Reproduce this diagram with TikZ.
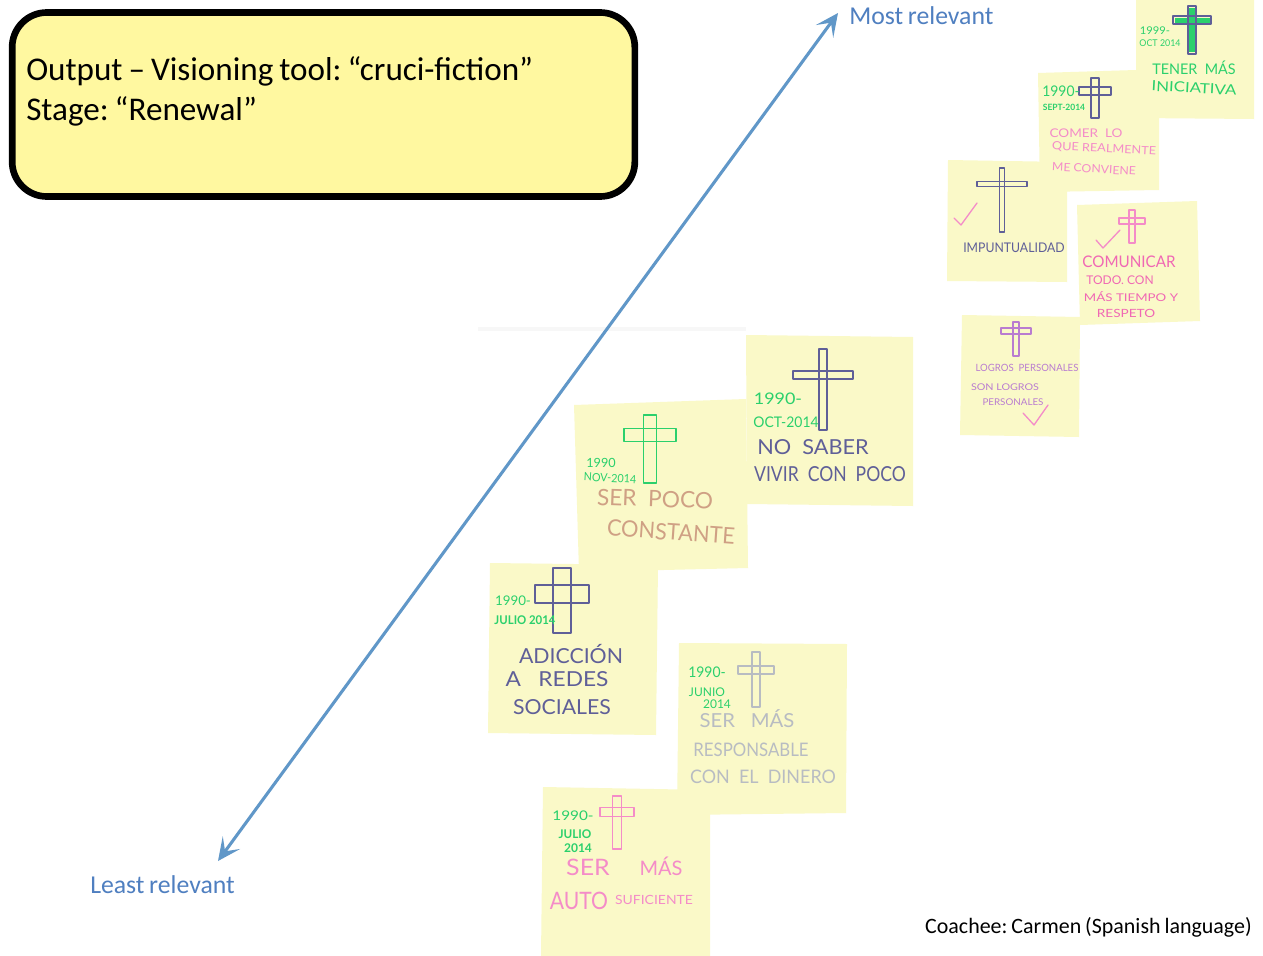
\documentclass[tikz,border=0pt]{standalone}
\usepackage{fontspec}
\setmainfont[WordSpace=0.8]{Carlito}
\newfontfamily\handfont{Lato}
\usetikzlibrary{arrows.meta}
\frenchspacing
\definecolor{note}{HTML}{FAF9C8}
\definecolor{titlefill}{HTML}{FFF8A0}
\definecolor{arrowblue}{HTML}{6097C8}
\definecolor{labelblue}{HTML}{4F7FC0}
\definecolor{hgreen}{HTML}{2AD06C}
\definecolor{hnavy}{HTML}{5F5F98}
\definecolor{hpink}{HTML}{F48CC8}
\definecolor{hmag}{HTML}{F068B4}
\definecolor{hviolet}{HTML}{B97CD0}
\definecolor{hbrown}{HTML}{CFA084}
\definecolor{hgrey}{HTML}{B8BCC2}
\tikzset{
  notepoly/.style={fill=note,draw=none},
  hand/.style={inner sep=0pt,anchor=center,font=\handfont},
  crossline/.style={line width=.9pt,line join=round},
  checkline/.style={line width=1pt,line cap=round,line join=round},
  axis/.style={draw=arrowblue,line width=2.3pt,{Stealth[length=17pt,width=16pt,inset=8pt]}-{Stealth[length=17pt,width=16pt,inset=8pt]}},
  axislabel/.style={text=labelblue,font=\fontsize{19.3}{22}\selectfont,inner sep=0pt}
}
% \handtext{name}{x,y}{angle}{colour}{size}{xscale}{text}
\newcommand{\handtext}[7]{\node[hand,text=#4,rotate=#3,xscale=#6,font=\handfont\fontsize{#5}{#5}\selectfont] (#1) at (#2) {#7};}
% \crossmark{colour}{cx}{top}{bottom}{arm y}{half arm}{half width}: two overlapping bars
\newcommand{\crossmark}[7]{%
  \draw[crossline,draw=#1] ({#2-#7},#3) rectangle ({#2+#7},#4);
  \draw[crossline,draw=#1] ({#2-#6},{#5-#7}) rectangle ({#2+#6},{#5+#7});}
\begin{document}
\begin{tikzpicture}[x=0.75pt,y=-0.75pt]
\useasboundingbox (0,0) rectangle (1263,956);
\fill[white] (0,0) rectangle (1263,956);
% faint shadow line
\fill[black!3] (478,327) rectangle (746,331);
% title box
\node[draw=black,line width=5pt,fill=titlefill,rounded corners=26pt,minimum width=467pt,minimum height=138pt,inner sep=0pt] (titlebox) at (323.5,104.5) {};
\node[anchor=north west,inner sep=0pt,align=left,font=\fontsize{24.85}{30}\selectfont] (titletext) at (26,56) {Output -- Visioning tool: “cruci-fiction”\\Stage: “Renewal”};
% notes
\fill[notepoly] (1136,0) -- (1254,0) -- (1254,119) -- (1136,118) -- cycle;
\fill[notepoly] (1038,73) -- (1136,70) -- (1159,70) -- (1159,190) -- (1040,192) -- cycle;
\fill[notepoly] (948,160) -- (1067,162) -- (1067,282) -- (947,281) -- cycle;
\fill[notepoly] (1077,205) -- (1197,201) -- (1200,321) -- (1080,325) -- cycle;
\fill[notepoly] (962,315) -- (1080,317) -- (1079,437) -- (960,435) -- cycle;
\fill[notepoly] (746,335) -- (913,337) -- (913,506) -- (747,504) -- cycle;
\fill[notepoly] (574,405) -- (746,399) -- (748,568) -- (579,572) -- cycle;
\fill[notepoly] (490,563) -- (658,565) -- (656,735) -- (488,733) -- cycle;
\fill[notepoly] (679,643) -- (847,644) -- (846,813) -- (677,815) -- cycle;
\fill[notepoly] (543,787) -- (710,790) -- (710,956) -- (541,956) -- cycle;
% axis
\coordinate (lo) at (218,861);
\coordinate (hi) at (838,13);
\draw[axis] (lo) -- (hi);
\node[axislabel,anchor=west] (most) at (849,16) {Most relevant};
\node[axislabel,anchor=west] (least) at (90,885) {Least relevant};
\node[anchor=east,inner sep=0pt,font=\fontsize{16.45}{18}\selectfont] (coachee) at (1252,927) {Coachee: Carmen (Spanish language)};
% note 1
\fill[hgreen] (1189,8) rectangle (1195,52);
\fill[hgreen] (1175,18) rectangle (1210,23);
\crossmark{hnavy}{1192}{6}{54}{20}{19}{4}
\handtext{a1}{1155,31}{0}{hgreen}{8}{1.05}{1999-}
\handtext{a2}{1160,43}{0}{hgreen}{7}{.95}{OCT 2014}
\handtext{a3}{1194,68}{0}{hgreen}{11}{.98}{TENER\ \ MÁS}
\handtext{a4}{1194,88}{-3}{hgreen}{10.5}{1.2}{INICIATIVA}
% note 2
\crossmark{hnavy}{1095}{78}{118}{91}{16}{4}
\handtext{b1}{1061,91}{0}{hgreen}{11}{.95}{1990-}
\handtext{b2}{1064,107}{0}{hgreen}{6.5}{.98}{\textbf{SEPT-2014}}
\handtext{b3}{1086,133}{0}{hpink}{9}{1.13}{COMER\ \ LO}
\handtext{b4}{1104,149}{-3}{hpink}{8.5}{1.12}{QUE REALMENTE}
\handtext{b5}{1094,169}{-3}{hpink}{8.5}{1.08}{ME CONVIENE}
% note 3
\crossmark{hnavy}{1002}{168}{232}{184}{25}{2.5}
\draw[checkline,draw=hpink] (954,218) -- (961,225) -- (977,203);
\handtext{c1}{1014,248}{0}{hnavy}{10}{.92}{IMPUNTUALIDAD}
% note 4
\crossmark{hpink}{1132}{210}{243}{221}{13}{3}
\draw[checkline,draw=hpink] (1096,240) -- (1103,248) -- (1120,230);
\handtext{d1}{1129,262}{0}{hmag}{12}{.95}{COMUNICAR}
\handtext{d2}{1120,280}{0}{hmag}{9}{1}{TODO.\ CON}
\handtext{d3}{1131,297}{0}{hmag}{8}{1.25}{MÁS TIEMPO Y}
\handtext{d4}{1126,313}{0}{hmag}{8.5}{1.2}{RESPETO}
% note 5
\crossmark{hviolet}{1016}{322}{356}{331}{15}{3}
\handtext{e1}{1027,368}{0}{hviolet}{7.5}{.96}{LOGROS\ \ PERSONALES}
\handtext{e2}{1005,387}{0}{hviolet}{7}{1.15}{SON\ LOGROS}
\handtext{e3}{1013,402}{0}{hviolet}{7}{1.05}{PERSONALES}
\draw[checkline,draw=hpink] (1023,413) -- (1034,425) -- (1048,405);
% note 6
\crossmark{hnavy}{823}{349}{430}{375}{30}{4}
\handtext{f1}{778,399}{0}{hgreen}{12}{1.12}{1990-}
\handtext{f2}{786,422}{0}{hgreen}{11}{.95}{OCT-2014}
\handtext{f3}{813,447}{0}{hnavy}{15.5}{1.05}{NO\ \ SABER}
\handtext{f4}{830,474}{0}{hnavy}{15.5}{.85}{VIVIR\ \ CON\ \ POCO}
% note 7
\crossmark{hgreen}{650}{415}{483}{435}{26}{6.5}
\handtext{g1}{601,463}{0}{hgreen}{9.5}{1}{1990}
\handtext{g2}{610,478}{-3}{hgreen}{8.5}{.95}{NOV-2014}
\handtext{g3}{655,499}{-2}{hbrown}{17}{1}{SER\ \ POCO}
\handtext{g4}{671,532}{-4}{hbrown}{17}{.96}{CONSTANTE}
% note 8
\crossmark{hnavy}{562}{568}{633}{594}{27}{9}
\handtext{h1}{513,601}{0}{hgreen}{10}{1}{1990-}
\handtext{h2}{525,620}{0}{hgreen}{9}{.95}{\textbf{JULIO 2014}}
\handtext{h3}{571,654}{0}{hnavy}{15.5}{1.03}{ADICCIÓN}
\handtext{h4}{557,679}{0}{hnavy}{15.5}{1.1}{A\ \ \ REDES}
\handtext{h5}{562,707}{0}{hnavy}{15.5}{1.03}{SOCIALES}
% note 9
\crossmark{hgrey}{756}{652}{707}{670}{18}{4}
\handtext{i1}{707,672}{0}{hgreen}{11}{.95}{1990-}
\handtext{i2}{707,692}{0}{hgreen}{9}{1}{JUNIO}
\handtext{i3}{717,704}{0}{hgreen}{9}{1}{2014}
\handtext{i4}{747,719}{0}{hgrey}{14.5}{1.05}{SER\ \ \ MÁS}
\handtext{i5}{751,750}{0}{hgrey}{14}{.9}{RESPONSABLE}
\handtext{i6}{763,777}{0}{hgrey}{14}{.96}{CON\ \ EL\ \ DINERO}
% note 10
\crossmark{hpink}{617}{796}{849}{812}{17}{4.5}
\handtext{j1}{573,816}{0}{hgreen}{10}{1.15}{1990-}
\handtext{j2}{575,834}{0}{hgreen}{9}{.98}{\textbf{JULIO}}
\handtext{j3}{578,848}{0}{hgreen}{9}{1}{\textbf{2014}}
\handtext{j4}{588,867}{0}{hpink}{17}{1.1}{SER}
\handtext{j5}{661,866}{0}{hpink}{15}{1}{MÁS}
\handtext{j6}{579,901}{0}{hpink}{18}{.88}{AUTO}
\handtext{j7}{654,900}{0}{hpink}{9.5}{1.1}{SUFICIENTE}
\end{tikzpicture}
\end{document}
